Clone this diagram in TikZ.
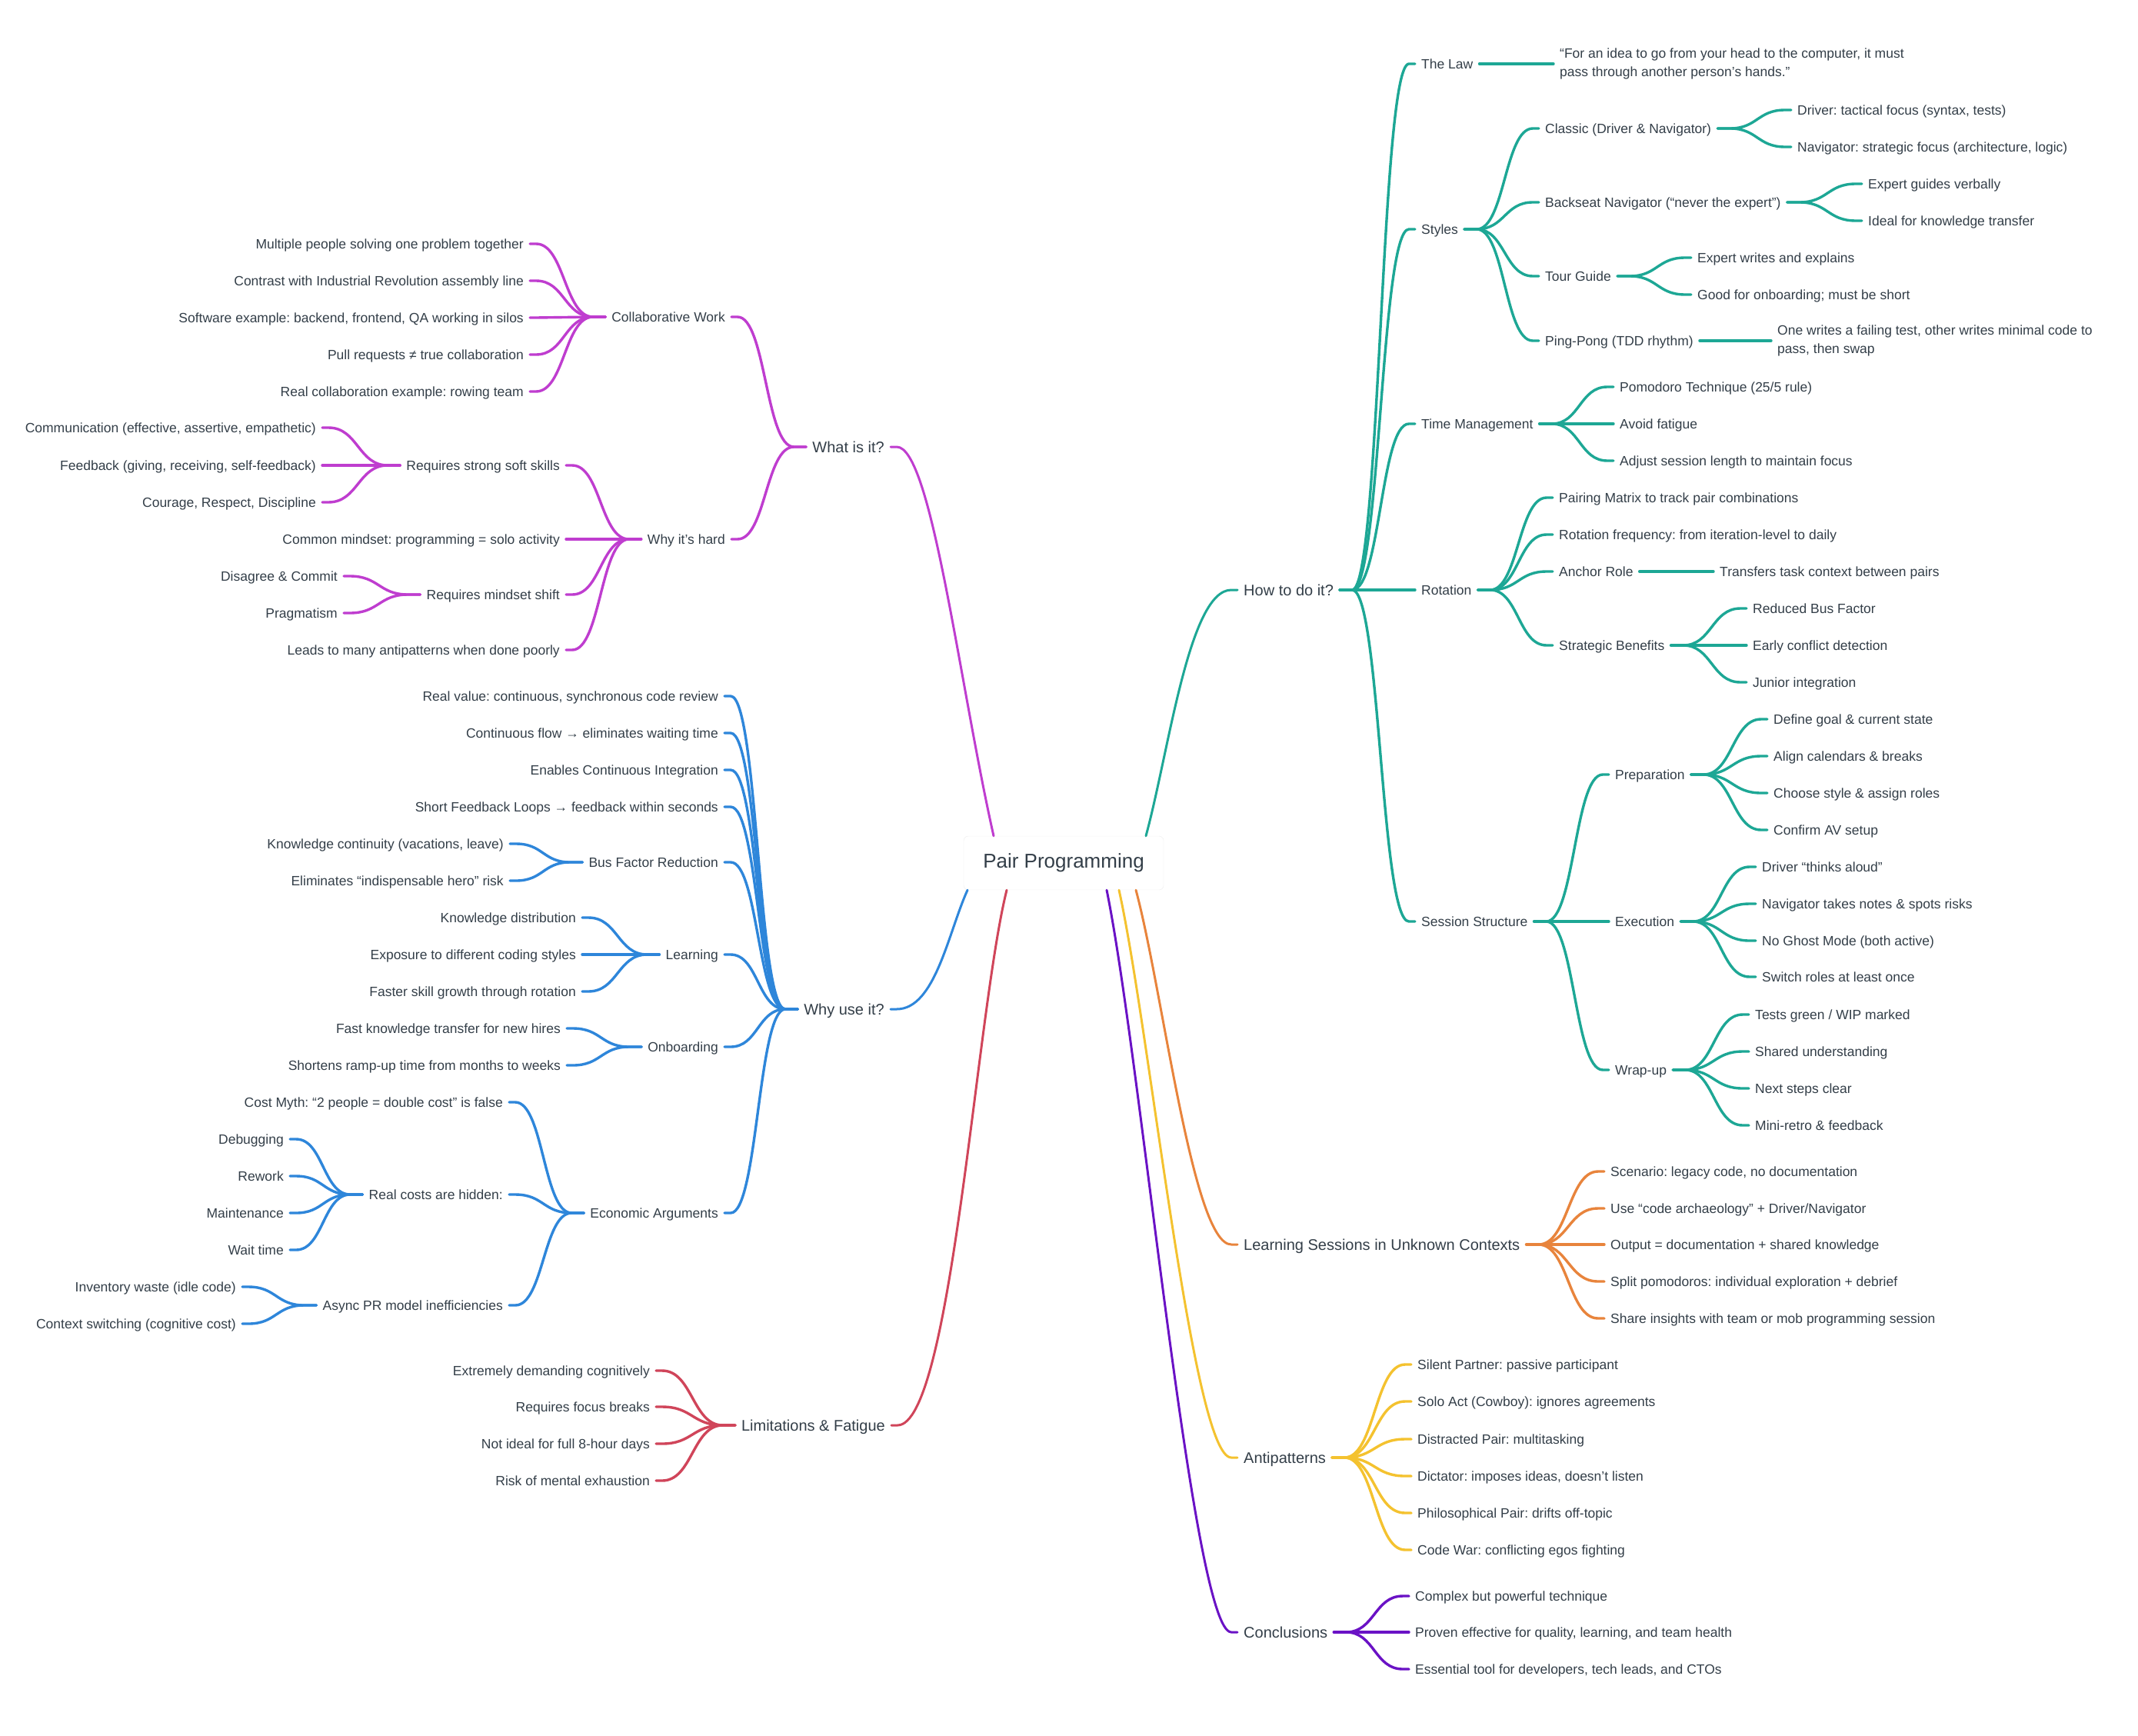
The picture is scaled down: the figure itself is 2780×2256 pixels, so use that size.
\documentclass[tikz,border=0pt]{standalone}
\usepackage{fontspec}
\setmainfont{Liberation Sans}
\usepackage{xcolor}
\usetikzlibrary{calc}
\frenchspacing
\definecolor{ink}{HTML}{333E48}
\definecolor{cWhat}{HTML}{BF3DCF}
\definecolor{cWhy}{HTML}{2E86DA}
\definecolor{cHow}{HTML}{1DA795}
\definecolor{cLim}{HTML}{D0455A}
\definecolor{cLearn}{HTML}{E8843C}
\definecolor{cAnti}{HTML}{F4C22F}
\definecolor{cConcl}{HTML}{6A12C5}
\newcommand\linkR[3]{\draw[link,#1] (#2.east) -- ++(16,0) to[hbend] ([xshift=-8pt]#3.west) -- (#3.west);}
\newcommand\linkL[3]{\draw[link,#1] (#2.west) -- ++(-16,0) to[hbend] ([xshift=8pt]#3.east) -- (#3.east);}

\begin{document}
\begin{tikzpicture}[x=1pt, y=-1pt,
				hub/.style={draw=black!7, fill=white, rounded corners=6pt, minimum width=260pt, minimum height=70pt, text=ink, font=\fontsize{26}{30}\selectfont},
				sect/.style={inner xsep=8pt, inner ysep=0pt, text height=14.3pt, text depth=0pt, text=ink, font=\fontsize{20}{26}\selectfont},
				item/.style={inner xsep=8pt, inner ysep=0pt, text height=12.5pt, text depth=0pt, text=ink, font=\fontsize{17.5}{24}\selectfont},
				para/.style={inner xsep=8pt, inner ysep=0pt, align=left, text=ink, font=\fontsize{17.5}{24}\selectfont},
				link/.style={line width=3.4pt, line cap=round},
				rootlink/.style={line width=3pt, line cap=round},
				hbend/.style={to path={let \p1=(\tikztostart), \p2=(\tikztotarget) in .. controls ({(\x1+\x2)/2},\y1) and ({(\x1+\x2)/2},\y2) .. (\tikztotarget)}}]
				\useasboundingbox (0,0) rectangle (2780,2256);
				\node at (1383,1122) (hub) [hub] {Pair Programming};
				% left side
				\node at (1158,581) (what) [sect, anchor=east] {What is it?};
				\node at (951,412) (collab) [item, anchor=east] {Collaborative Work};
				\node at (951,701) (hard) [item, anchor=east] {Why it’s hard};
				\node at (689,317) (col1) [item, anchor=east] {Multiple people solving one problem together};
				\node at (689,365) (col2) [item, anchor=east] {Contrast with Industrial Revolution assembly line};
				\node at (689,413) (col3) [item, anchor=east] {Software example: backend, frontend, QA working in silos};
				\node at (689,461) (col4) [item, anchor=east] {Pull requests ≠ true collaboration};
				\node at (689,509) (col5) [item, anchor=east] {Real collaboration example: rowing team};
				\node at (736,605) (soft) [item, anchor=east] {Requires strong soft skills};
				\node at (736,701) (solo) [item, anchor=east] {Common mindset: programming = solo activity};
				\node at (736,773) (shift) [item, anchor=east] {Requires mindset shift};
				\node at (736,845) (poorly) [item, anchor=east] {Leads to many antipatterns when done poorly};
				\node at (419,556) (soft1) [item, anchor=east] {Communication (effective, assertive, empathetic)};
				\node at (419,605) (soft2) [item, anchor=east] {Feedback (giving, receiving, self-feedback)};
				\node at (419,653) (soft3) [item, anchor=east] {Courage, Respect, Discipline};
				\node at (447,749) (shf1) [item, anchor=east] {Disagree \& Commit};
				\node at (447,797) (shf2) [item, anchor=east] {Pragmatism};
				\node at (1158,1312) (why) [sect, anchor=east] {Why use it?};
				\node at (942,905) (real) [item, anchor=east] {Real value: continuous, synchronous code review};
				\node at (942,953) (flow) [item, anchor=east] {Continuous flow → eliminates waiting time};
				\node at (942,1001) (ci) [item, anchor=east] {Enables Continuous Integration};
				\node at (942,1049) (sfl) [item, anchor=east] {Short Feedback Loops → feedback within seconds};
				\node at (942,1121) (bus) [item, anchor=east] {Bus Factor Reduction};
				\node at (942,1241) (lrn) [item, anchor=east] {Learning};
				\node at (942,1361) (onb) [item, anchor=east] {Onboarding};
				\node at (942,1577) (econ) [item, anchor=east] {Economic Arguments};
				\node at (663,1097) (bus1) [item, anchor=east] {Knowledge continuity (vacations, leave)};
				\node at (663,1145) (bus2) [item, anchor=east] {Eliminates “indispensable hero” risk};
				\node at (757,1193) (lrn1) [item, anchor=east] {Knowledge distribution};
				\node at (757,1241) (lrn2) [item, anchor=east] {Exposure to different coding styles};
				\node at (757,1289) (lrn3) [item, anchor=east] {Faster skill growth through rotation};
				\node at (737,1337) (onb1) [item, anchor=east] {Fast knowledge transfer for new hires};
				\node at (737,1385) (onb2) [item, anchor=east] {Shortens ramp-up time from months to weeks};
				\node at (662,1433) (myth) [item, anchor=east] {Cost Myth: “2 people = double cost” is false};
				\node at (662,1553) (hidden) [item, anchor=east] {Real costs are hidden:};
				\node at (662,1697) (async) [item, anchor=east] {Async PR model inefficiencies};
				\node at (377,1481) (hid1) [item, anchor=east] {Debugging};
				\node at (377,1529) (hid2) [item, anchor=east] {Rework};
				\node at (377,1577) (hid3) [item, anchor=east] {Maintenance};
				\node at (377,1625) (hid4) [item, anchor=east] {Wait time};
				\node at (315,1673) (asy1) [item, anchor=east] {Inventory waste (idle code)};
				\node at (315,1721) (asy2) [item, anchor=east] {Context switching (cognitive cost)};
				\node at (1159,1853) (lim) [sect, anchor=east] {Limitations \& Fatigue};
				\node at (853,1782) (lim1) [item, anchor=east] {Extremely demanding cognitively};
				\node at (853,1829) (lim2) [item, anchor=east] {Requires focus breaks};
				\node at (853,1877) (lim3) [item, anchor=east] {Not ideal for full 8-hour days};
				\node at (853,1925) (lim4) [item, anchor=east] {Risk of mental exhaustion};
				% right side
				\node at (1609,767) (how) [sect, anchor=west] {How to do it?};
				\node at (1840,83) (law) [item, anchor=west] {The Law};
				\node at (1840,298) (styles) [item, anchor=west] {Styles};
				\node at (1840,551) (time) [item, anchor=west] {Time Management};
				\node at (1840,767) (rot) [item, anchor=west] {Rotation};
				\node at (1840,1198) (sess) [item, anchor=west] {Session Structure};
				\node at (2020,83) (quote) [para, anchor=west] {“For an idea to go from your head to the computer, it must\\pass through another person’s hands.”};
				\node at (2001,167) (classic) [item, anchor=west] {Classic (Driver \& Navigator)};
				\node at (2001,263) (backseat) [item, anchor=west] {Backseat Navigator (“never the expert”)};
				\node at (2001,359) (tour) [item, anchor=west] {Tour Guide};
				\node at (2001,443) (ping) [item, anchor=west] {Ping-Pong (TDD rhythm)};
				\node at (2329,143) (cls1) [item, anchor=west] {Driver: tactical focus (syntax, tests)};
				\node at (2329,191) (cls2) [item, anchor=west] {Navigator: strategic focus (architecture, logic)};
				\node at (2421,239) (bsn1) [item, anchor=west] {Expert guides verbally};
				\node at (2421,287) (bsn2) [item, anchor=west] {Ideal for knowledge transfer};
				\node at (2199,335) (tour1) [item, anchor=west] {Expert writes and explains};
				\node at (2199,383) (tour2) [item, anchor=west] {Good for onboarding; must be short};
				\node at (2303,443) (pingtxt) [para, anchor=west] {One writes a failing test, other writes minimal code to\\pass, then swap};
				\node at (2098,503) (tm1) [item, anchor=west] {Pomodoro Technique (25/5 rule)};
				\node at (2098,551) (tm2) [item, anchor=west] {Avoid fatigue};
				\node at (2098,599) (tm3) [item, anchor=west] {Adjust session length to maintain focus};
				\node at (2019,647) (rot1) [item, anchor=west] {Pairing Matrix to track pair combinations};
				\node at (2019,695) (rot2) [item, anchor=west] {Rotation frequency: from iteration-level to daily};
				\node at (2019,743) (anchorrole) [item, anchor=west] {Anchor Role};
				\node at (2019,839) (strat) [item, anchor=west] {Strategic Benefits};
				\node at (2228,743) (transfer) [item, anchor=west] {Transfers task context between pairs};
				\node at (2271,791) (str1) [item, anchor=west] {Reduced Bus Factor};
				\node at (2271,839) (str2) [item, anchor=west] {Early conflict detection};
				\node at (2271,887) (str3) [item, anchor=west] {Junior integration};
				\node at (2092,1007) (prep) [item, anchor=west] {Preparation};
				\node at (2092,1198) (exec) [item, anchor=west] {Execution};
				\node at (2092,1391) (wrap) [item, anchor=west] {Wrap-up};
				\node at (2298,935) (prp1) [item, anchor=west] {Define goal \& current state};
				\node at (2298,983) (prp2) [item, anchor=west] {Align calendars \& breaks};
				\node at (2298,1031) (prp3) [item, anchor=west] {Choose style \& assign roles};
				\node at (2298,1079) (prp4) [item, anchor=west] {Confirm AV setup};
				\node at (2283,1127) (exe1) [item, anchor=west] {Driver “thinks aloud”};
				\node at (2283,1175) (exe2) [item, anchor=west] {Navigator takes notes \& spots risks};
				\node at (2283,1223) (exe3) [item, anchor=west] {No Ghost Mode (both active)};
				\node at (2283,1270) (exe4) [item, anchor=west] {Switch roles at least once};
				\node at (2274,1319) (wrp1) [item, anchor=west] {Tests green / WIP marked};
				\node at (2274,1367) (wrp2) [item, anchor=west] {Shared understanding};
				\node at (2274,1415) (wrp3) [item, anchor=west] {Next steps clear};
				\node at (2274,1463) (wrp4) [item, anchor=west] {Mini-retro \& feedback};
				\node at (1609,1618) (lsess) [sect, anchor=west] {Learning Sessions in Unknown Contexts};
				\node at (2086,1523) (ls1) [item, anchor=west] {Scenario: legacy code, no documentation};
				\node at (2086,1571) (ls2) [item, anchor=west] {Use “code archaeology” + Driver/Navigator};
				\node at (2086,1618) (ls3) [item, anchor=west] {Output = documentation + shared knowledge};
				\node at (2086,1666) (ls4) [item, anchor=west] {Split pomodoros: individual exploration + debrief};
				\node at (2086,1714) (ls5) [item, anchor=west] {Share insights with team or mob programming session};
				\node at (1609,1895) (anti) [sect, anchor=west] {Antipatterns};
				\node at (1835,1774) (ap1) [item, anchor=west] {Silent Partner: passive participant};
				\node at (1835,1822) (ap2) [item, anchor=west] {Solo Act (Cowboy): ignores agreements};
				\node at (1835,1871) (ap3) [item, anchor=west] {Distracted Pair: multitasking};
				\node at (1835,1919) (ap4) [item, anchor=west] {Dictator: imposes ideas, doesn’t listen};
				\node at (1835,1967) (ap5) [item, anchor=west] {Philosophical Pair: drifts off-topic};
				\node at (1835,2015) (ap6) [item, anchor=west] {Code War: conflicting egos fighting};
				\node at (1609,2122) (concl) [sect, anchor=west] {Conclusions};
				\node at (1832,2075) (cc1) [item, anchor=west] {Complex but powerful technique};
				\node at (1832,2122) (cc2) [item, anchor=west] {Proven effective for quality, learning, and team health};
				\node at (1832,2170) (cc3) [item, anchor=west] {Essential tool for developers, tech leads, and CTOs};
				% links from the centre
				\draw[rootlink, cWhat] ([xshift=-91pt]hub.north) .. controls +(-45,-200) and +(45,0) .. ([xshift=8pt]what.east) -- (what.east);
				\draw[rootlink, cHow] ([xshift=107pt]hub.north) .. controls +(30,-110) and +(-55,0) .. ([xshift=-8pt]how.west) -- (how.west);
				\draw[rootlink, cWhy] ([xshift=-125pt]hub.south) .. controls +(-25,55) and +(50,0) .. ([xshift=8pt]why.east) -- (why.east);
				\draw[rootlink, cLim] ([xshift=-74pt]hub.south) .. controls +(-40,160) and +(70,0) .. ([xshift=8pt]lim.east) -- (lim.east);
				\draw[rootlink, cConcl] ([xshift=56pt]hub.south) .. controls +(45,220) and +(-50,0) .. ([xshift=-8pt]concl.west) -- (concl.west);
				\draw[rootlink, cAnti] ([xshift=72pt]hub.south) .. controls +(40,180) and +(-50,0) .. ([xshift=-8pt]anti.west) -- (anti.west);
				\draw[rootlink, cLearn] ([xshift=94pt]hub.south) .. controls +(35,130) and +(-50,0) .. ([xshift=-8pt]lsess.west) -- (lsess.west);
				% branches
				\foreach \c in {collab,hard} {\linkL{cWhat}{what}{\c}}
				\foreach \c in {col1,col2,col3,col4,col5} {\linkL{cWhat}{collab}{\c}}
				\foreach \c in {soft,solo,shift,poorly} {\linkL{cWhat}{hard}{\c}}
				\foreach \c in {soft1,soft2,soft3} {\linkL{cWhat}{soft}{\c}}
				\foreach \c in {shf1,shf2} {\linkL{cWhat}{shift}{\c}}
				\foreach \c in {real,flow,ci,sfl,bus,lrn,onb,econ} {\linkL{cWhy}{why}{\c}}
				\foreach \c in {bus1,bus2} {\linkL{cWhy}{bus}{\c}}
				\foreach \c in {lrn1,lrn2,lrn3} {\linkL{cWhy}{lrn}{\c}}
				\foreach \c in {onb1,onb2} {\linkL{cWhy}{onb}{\c}}
				\foreach \c in {myth,hidden,async} {\linkL{cWhy}{econ}{\c}}
				\foreach \c in {hid1,hid2,hid3,hid4} {\linkL{cWhy}{hidden}{\c}}
				\foreach \c in {asy1,asy2} {\linkL{cWhy}{async}{\c}}
				\foreach \c in {lim1,lim2,lim3,lim4} {\linkL{cLim}{lim}{\c}}
				\foreach \c in {law,styles,time,rot,sess} {\linkR{cHow}{how}{\c}}
				\linkR{cHow}{law}{quote}
				\foreach \c in {classic,backseat,tour,ping} {\linkR{cHow}{styles}{\c}}
				\foreach \c in {cls1,cls2} {\linkR{cHow}{classic}{\c}}
				\foreach \c in {bsn1,bsn2} {\linkR{cHow}{backseat}{\c}}
				\foreach \c in {tour1,tour2} {\linkR{cHow}{tour}{\c}}
				\linkR{cHow}{ping}{pingtxt}
				\foreach \c in {tm1,tm2,tm3} {\linkR{cHow}{time}{\c}}
				\foreach \c in {rot1,rot2,anchorrole,strat} {\linkR{cHow}{rot}{\c}}
				\linkR{cHow}{anchorrole}{transfer}
				\foreach \c in {str1,str2,str3} {\linkR{cHow}{strat}{\c}}
				\foreach \c in {prep,exec,wrap} {\linkR{cHow}{sess}{\c}}
				\foreach \c in {prp1,prp2,prp3,prp4} {\linkR{cHow}{prep}{\c}}
				\foreach \c in {exe1,exe2,exe3,exe4} {\linkR{cHow}{exec}{\c}}
				\foreach \c in {wrp1,wrp2,wrp3,wrp4} {\linkR{cHow}{wrap}{\c}}
				\foreach \c in {ls1,ls2,ls3,ls4,ls5} {\linkR{cLearn}{lsess}{\c}}
				\foreach \c in {ap1,ap2,ap3,ap4,ap5,ap6} {\linkR{cAnti}{anti}{\c}}
				\foreach \c in {cc1,cc2,cc3} {\linkR{cConcl}{concl}{\c}}
			\end{tikzpicture}
\end{document}
